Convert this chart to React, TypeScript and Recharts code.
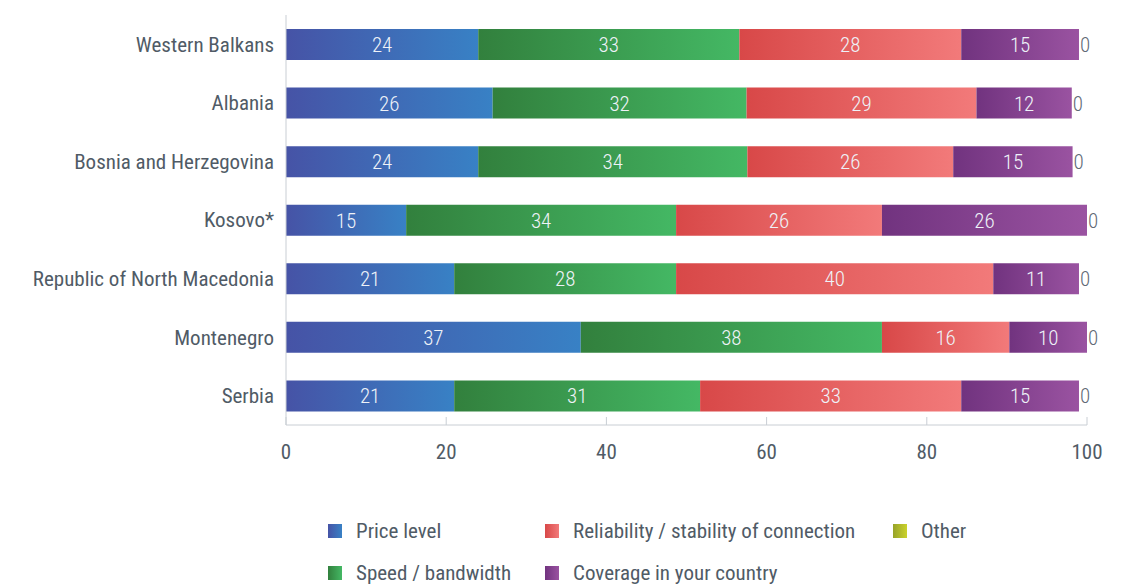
import { BarChart, Bar, XAxis, YAxis, Legend, LabelList } from "recharts";

const countries = [
  "Western Balkans",
  "Albania",
  "Bosnia and Herzegovina",
  "Kosovo*",
  "Republic of North Macedonia",
  "Montenegro",
  "Serbia",
];
const priceLevel = [24.0, 25.8, 24.0, 15.0, 21.0, 36.8, 21.0];
const speed = [32.6, 31.7, 33.6, 33.7, 27.7, 37.6, 30.7];
const reliability = [27.7, 28.7, 25.7, 25.7, 39.6, 15.9, 32.6];
const coverage = [14.7, 11.9, 14.9, 25.6, 10.7, 9.7, 14.7];
const other = [0, 0, 0, 0, 0, 0, 0];
const xTicks = [0, 20, 40, 60, 80, 100];

const data = countries.map((c, i) => ({
  country: c,
  price: priceLevel[i],
  speed: speed[i],
  reliability: reliability[i],
  coverage: coverage[i],
  other: other[i],
}));

const series = [
  { key: "price", name: "Price level", from: "#4653a6", to: "#3881c5" },
  { key: "speed", name: "Speed / bandwidth", from: "#32803d", to: "#44b864" },
  { key: "reliability", name: "Reliability / stability of connection", from: "#d84848", to: "#f27a7a" },
  { key: "coverage", name: "Coverage in your country", from: "#71337f", to: "#9a53a1" },
  { key: "other", name: "Other", from: "#97a32a", to: "#cbd22c" },
];

const FONT = "Roboto Condensed, Roboto, sans-serif";
const TEXT = "#505b66";
const AXIS = "#c9ced4";
const FS = 21;

const legendItems = [
  { s: series[0], left: 328, top: 521 },
  { s: series[2], left: 545, top: 521 },
  { s: series[4], left: 893, top: 521 },
  { s: series[1], left: 328, top: 563 },
  { s: series[3], left: 545, top: 563 },
];

const LegendBox = () => (
  <div style={{ position: "relative", width: 1129, height: 77 }}>
    {legendItems.map(({ s, left, top }) => (
      <div
        key={s.key}
        style={{
          position: "absolute",
          left,
          top: top - 510,
          display: "flex",
          alignItems: "center",
          height: 20,
          fontFamily: FONT,
          fontSize: FS,
          color: TEXT,
          whiteSpace: "nowrap",
        }}
      >
        <span
          style={{
            display: "inline-block",
            width: 14,
            height: 14,
            marginRight: 14,
            background: `linear-gradient(to right, ${s.from}, ${s.to})`,
          }}
        />
        {s.name}
      </div>
    ))}
  </div>
);

export default function App() {
  return (
    <div style={{ position: "absolute", left: 0, top: 0, background: "#fff" }}>
      <BarChart
        width={1129}
        height={587}
        data={data}
        layout="vertical"
        margin={{ top: 15, right: 42, bottom: 0, left: 0 }}
        barSize={31}
      >
        <defs>
          {series.map((s) => (
            <linearGradient key={s.key} id={`g-${s.key}`} x1="0" y1="0" x2="1" y2="0">
              <stop offset="0%" stopColor={s.from} />
              <stop offset="100%" stopColor={s.to} />
            </linearGradient>
          ))}
        </defs>
        <XAxis
          type="number"
          domain={[0, 100]}
          ticks={xTicks}
          height={85}
          stroke={AXIS}
          tickSize={-8}
          tickMargin={27}
          tick={{ fill: TEXT, fontSize: FS, fontFamily: FONT }}
        />
        <YAxis
          type="category"
          dataKey="country"
          width={286}
          stroke={AXIS}
          tickLine={false}
          tickMargin={6}
          tick={{ fill: TEXT, fontSize: FS, fontFamily: FONT }}
        />
        <Legend
          verticalAlign="bottom"
          wrapperStyle={{ left: 0, width: 1129, top: 510 }}
          content={() => <LegendBox />}
        />
        {series.map((s) => (
          <Bar
            key={s.key}
            dataKey={s.key}
            name={s.name}
            stackId="a"
            fill={`url(#g-${s.key})`}
            isAnimationActive={false}
          >
            {s.key !== "other" && (
              <LabelList
                dataKey={s.key}
                position="center"
                formatter={(v: any) => Math.round(Number(v))}
                fill="#eef2f8"
                fontSize={FS}
                fontWeight={300}
                fontFamily={FONT}
              />
            )}
            {s.key === "coverage" && (
              <LabelList
                dataKey="other"
                position="right"
                offset={1}
                fill="#5f6a76"
                fontSize={FS}
                fontWeight={300}
                fontFamily={FONT}
              />
            )}
          </Bar>
        ))}
      </BarChart>
    </div>
  );
}
